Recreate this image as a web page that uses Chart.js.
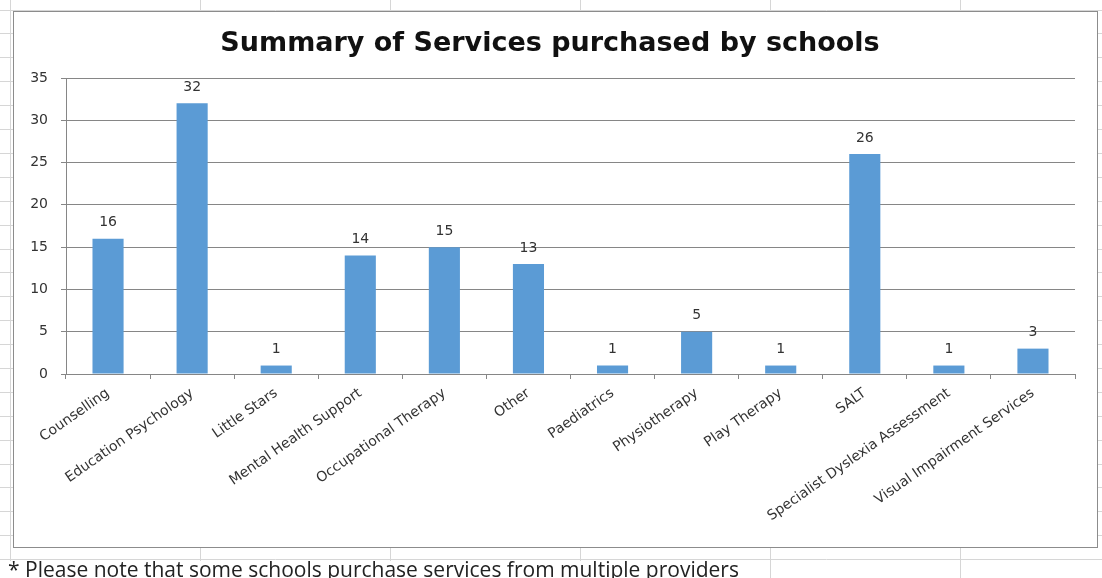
<!DOCTYPE html>
<html>
<head>
<meta charset="utf-8">
<script src="https://cdn.jsdelivr.net/npm/chart.js@4"></script>
<style>
  html, body { margin: 0; padding: 0; background: #fff; }
  #wrap { position: relative; width: 1102px; height: 578px; overflow: hidden; }
  #services-chart { position: absolute; left: 0; top: 0; }
  .footnote {
    position: absolute; left: 8px; top: 558px;
    font-family: 'Open Sans', sans-serif; font-size: 21px; color: #222;
    white-space: nowrap; line-height: 22px;
  }
</style>
</head>
<body>
<div id="wrap">
  <canvas id="services-chart" width="1102" height="578"></canvas>
  <div class="footnote">* Please note that some schools purchase services from multiple providers</div>
</div>
<script>
const services = [
  'Counselling',
  'Education Psychology',
  'Little Stars',
  'Mental Health Support',
  'Occupational Therapy',
  'Other',
  'Paediatrics',
  'Physiotherapy',
  'Play Therapy',
  'SALT',
  'Specialist Dyslexia Assessment',
  'Visual Impairment Services',
];

const schoolCounts = [16, 32, 1, 14, 15, 13, 1, 5, 1, 26, 1, 3];

const yTicks = [0, 5, 10, 15, 20, 25, 30, 35];

const chartTitle = 'Summary of Services purchased by schools';

const barColor = '#5b9bd5';
const axisColor = '#868686';
const textColor = '#333333';
const chartFont = 'DejaVu Sans';

// worksheet cells behind the chart, plus the chart's own frame
const sheetBackground = {
  id: 'sheetBackground',
  beforeDraw(chart) {
    const ctx = chart.ctx;
    const w = chart.width;
    const h = chart.height;
    ctx.save();
    ctx.fillStyle = '#fff';
    ctx.fillRect(0, 0, w, h);

    ctx.strokeStyle = '#d6d6d6';
    ctx.lineWidth = 1;
    ctx.beginPath();
    // row lines
    for (let y = 9.5; y < h; y += 23.9) {
      const yy = Math.round(y) + 0.5;
      ctx.moveTo(0, yy);
      ctx.lineTo(w, yy);
    }
    // column lines
    const cols = [10, 200, 390, 580, 770, 960];
    for (let i = 0; i < cols.length; i++) {
      ctx.moveTo(cols[i] + 0.5, 0);
      ctx.lineTo(cols[i] + 0.5, h);
    }
    ctx.stroke();

    // footnote text overflows the cells on its row, hiding those borders
    ctx.fillStyle = '#fff';
    ctx.fillRect(0, 561, 750, h - 561);

    // chart box
    ctx.fillStyle = '#fff';
    ctx.fillRect(13, 11, 1084, 536);
    ctx.strokeStyle = '#8c8c8c';
    ctx.strokeRect(13.5, 11.5, 1084, 536);
    ctx.restore();
  }
};

// value printed above each bar
const barValues = {
  id: 'barValues',
  afterDatasetsDraw(chart) {
    const ctx = chart.ctx;
    const meta = chart.getDatasetMeta(0);
    ctx.save();
    ctx.font = '14px "' + chartFont + '"';
    ctx.fillStyle = textColor;
    ctx.textAlign = 'center';
    ctx.textBaseline = 'middle';
    meta.data.forEach((bar, i) => {
      ctx.fillText(String(schoolCounts[i]), bar.x, bar.y - 16);
    });
    ctx.restore();
  }
};

const servicesChart = document.querySelector('#services-chart');

new Chart(servicesChart, {
  type: 'bar',
  data: {
    labels: services,
    datasets: [
      {
        label: 'Schools',
        data: schoolCounts,
        backgroundColor: barColor,
        borderWidth: 0,
        categoryPercentage: 1,
        barPercentage: 0.37,
      },
    ],
  },
  options: {
    responsive: false,
    animation: false,
    layout: {
      padding: { left: 14, right: 16, top: 12, bottom: 31 }
    },
    plugins: {
      legend: { display: false },
      tooltip: { enabled: false },
      title: {
        display: true,
        text: chartTitle,
        color: '#111',
        font: { family: chartFont, size: 27, weight: 'bold', lineHeight: 1.2 },
        padding: { top: 16, bottom: 17.6 }
      }
    },
    scales: {
      x: {
        grid: {
          drawOnChartArea: false,
          drawTicks: true,
          tickLength: 5,
          color: axisColor,
          offset: true
        },
        border: { display: true, color: axisColor },
        ticks: {
          autoSkip: false,
          minRotation: 35,
          maxRotation: 35,
          padding: 6,
          color: textColor,
          font: { family: chartFont, size: 14 }
        },
        afterFit(scale) { scale.height = 173; }
      },
      y: {
        min: 0,
        max: 35,
        afterBuildTicks(scale) {
          scale.ticks = yTicks.map((v) => ({ value: v }));
        },
        grid: {
          color: axisColor,
          tickLength: 5
        },
        border: { display: true, color: axisColor },
        ticks: {
          padding: 13,
          color: textColor,
          font: { family: chartFont, size: 14 }
        },
        afterFit(scale) { scale.width = 52; }
      },
      // empty right-hand margin so the plot ends short of the frame
      gutter: {
        type: 'linear',
        position: 'right',
        grid: { display: false },
        border: { display: false },
        ticks: { display: false },
        afterFit(scale) { scale.width = 11; }
      }
    }
  },
  plugins: [sheetBackground, barValues]
});
</script>
</body>
</html>
